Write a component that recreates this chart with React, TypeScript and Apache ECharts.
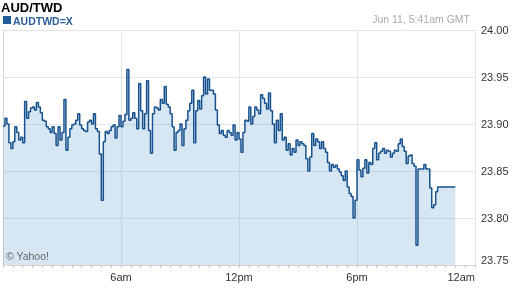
import React, { useEffect, useRef } from 'react';
import * as echarts from 'echarts';

// Sample times: one reading every 6 minutes (0.1 h) from midnight
const startHour = 0;
const stepHours = 0.1;

// AUD/TWD readings
const rateValues: number[] = [
  23.898, 23.906, 23.900, 23.880, 23.874, 23.881, 23.897, 23.891, 23.883, 23.886,
  23.880, 23.924, 23.906, 23.913, 23.917, 23.918, 23.915, 23.923, 23.918, 23.912,
  23.904, 23.903, 23.897, 23.895, 23.891, 23.897, 23.890, 23.877, 23.897, 23.883,
  23.891, 23.926, 23.872, 23.886, 23.895, 23.899, 23.900, 23.904, 23.911, 23.899,
  23.895, 23.893, 23.892, 23.902, 23.904, 23.900, 23.911, 23.895, 23.892, 23.868,
  23.819, 23.881, 23.892, 23.890, 23.893, 23.897, 23.899, 23.885, 23.897, 23.909,
  23.897, 23.903, 23.910, 23.958, 23.904, 23.906, 23.912, 23.906, 23.895, 23.943,
  23.914, 23.895, 23.911, 23.946, 23.893, 23.869, 23.911, 23.918, 23.917, 23.915,
  23.926, 23.922, 23.940, 23.921, 23.918, 23.911, 23.897, 23.872, 23.891, 23.893,
  23.900, 23.877, 23.895, 23.904, 23.914, 23.922, 23.936, 23.880, 23.914, 23.925,
  23.916, 23.930, 23.950, 23.932, 23.948, 23.936, 23.936, 23.932, 23.915, 23.899,
  23.890, 23.893, 23.888, 23.886, 23.893, 23.891, 23.888, 23.899, 23.883, 23.891,
  23.884, 23.870, 23.891, 23.904, 23.903, 23.918, 23.900, 23.908, 23.918, 23.915,
  23.911, 23.931, 23.927, 23.922, 23.916, 23.933, 23.914, 23.900, 23.880, 23.904,
  23.893, 23.911, 23.883, 23.886, 23.872, 23.879, 23.867, 23.874, 23.870, 23.883,
  23.877, 23.881, 23.879, 23.877, 23.863, 23.850, 23.865, 23.890, 23.877, 23.884,
  23.881, 23.874, 23.881, 23.874, 23.870, 23.859, 23.850, 23.857, 23.854, 23.856,
  23.852, 23.849, 23.845, 23.840, 23.850, 23.833, 23.826, 23.823, 23.800, 23.819,
  23.862, 23.851, 23.844, 23.853, 23.862, 23.848, 23.859, 23.857, 23.874, 23.880,
  23.862, 23.869, 23.871, 23.874, 23.869, 23.872, 23.871, 23.865, 23.869, 23.872,
  23.871, 23.879, 23.884, 23.876, 23.871, 23.858, 23.866, 23.867, 23.858, 23.855,
  23.771, 23.852, 23.852, 23.852, 23.857, 23.852, 23.852, 23.832, 23.811, 23.814,
  23.828, 23.833, 23.833, 23.833, 23.833, 23.833, 23.833, 23.833, 23.833, 23.833,
  23.833,
];

const xTickValues = [0, 6, 12, 18, 24];
const xTickLabels = ['', '6am', '12pm', '6pm', '12am'];

const titleText = 'AUD/TWD';
const legendText = 'AUDTWD=X';
const dateText = 'Jun 11, 5:41am GMT';
const creditText = '\u00A9 Yahoo!';

const FONT = '"Liberation Sans", Arial, Helvetica, sans-serif';

export default function App() {
  const ref = useRef<HTMLDivElement>(null);
  useEffect(() => {
    if (!ref.current) return;
    const chart = echarts.init(ref.current, null, { renderer: 'svg' });
    const seriesData = rateValues.map((v, i) => [startHour + i * stepHours, v]);
    chart.setOption({
      animation: false,
      textStyle: { fontFamily: FONT },
      grid: { left: 3, right: 37, top: 30, bottom: 23, containLabel: false },
      xAxis: {
        type: 'value',
        min: 0,
        max: 24,
        interval: 6,
        axisLine: { show: true, lineStyle: { color: '#d4d4d4', width: 1 } },
        axisTick: { show: true, length: 3, lineStyle: { color: '#c8c8c8' } },
        minorTick: { show: true, splitNumber: 12, length: 3, lineStyle: { color: '#c8c8c8' } },
        splitLine: { show: true, lineStyle: { color: '#e4e4e4', width: 1 } },
        axisLabel: {
          color: '#333333',
          fontSize: 11,
          fontFamily: FONT,
          margin: 6,
          alignMaxLabel: 'right',
          formatter: (v: number) => {
            const k = xTickValues.indexOf(Math.round(v));
            return k >= 0 ? xTickLabels[k] : '';
          },
        },
      },
      yAxis: {
        type: 'value',
        position: 'right',
        min: 23.75,
        max: 24.0,
        interval: 0.05,
        axisLine: { show: true, lineStyle: { color: '#d4d4d4', width: 1 } },
        axisTick: { show: true, length: 5, lineStyle: { color: '#dcdcdc' } },
        splitLine: { show: true, lineStyle: { color: '#e4e4e4', width: 1 } },
        axisLabel: {
          color: '#333333',
          fontSize: 11,
          fontFamily: FONT,
          margin: 6,
          verticalAlignMinLabel: 'bottom',
          formatter: (v: number) => v.toFixed(2),
        },
      },
      series: [
        {
          type: 'line',
          step: 'end',
          showSymbol: false,
          symbol: 'none',
          data: seriesData,
          lineStyle: { color: '#17528e', width: 1.5 },
          areaStyle: { color: 'rgba(118,172,212,0.3)', opacity: 1, origin: 'start' },
        },
      ],
      graphic: [
        {
          type: 'text',
          x: 1,
          y: 1,
          z: 100,
          style: { text: titleText, font: `bold 13px ${FONT}`, fill: '#000000', textVerticalAlign: 'top', verticalAlign: 'top' },
        },
        {
          type: 'rect',
          x: 3,
          y: 16,
          z: 100,
          shape: { width: 8, height: 8 },
          style: { fill: '#1f5b99' },
        },
        {
          type: 'text',
          x: 13,
          y: 15,
          z: 100,
          style: { text: legendText, font: `bold 10.5px ${FONT}`, fill: '#2a5d9a', textVerticalAlign: 'top', verticalAlign: 'top' },
        },
        {
          type: 'text',
          x: 470,
          y: 13,
          z: 100,
          style: {
            text: dateText,
            font: `10.5px ${FONT}`,
            fill: '#aaaaaa',
            textAlign: 'right',
            align: 'right',
            textVerticalAlign: 'top',
            verticalAlign: 'top',
          },
        },
        {
          type: 'text',
          x: 6,
          y: 250,
          z: 100,
          style: { text: creditText, font: `10.5px ${FONT}`, fill: '#666666', textVerticalAlign: 'top', verticalAlign: 'top' },
        },
      ],
    });
    return () => chart.dispose();
  }, []);
  return <div ref={ref} style={{ position: 'fixed', left: 0, top: 0, width: 512, height: 288 }} />;
}
